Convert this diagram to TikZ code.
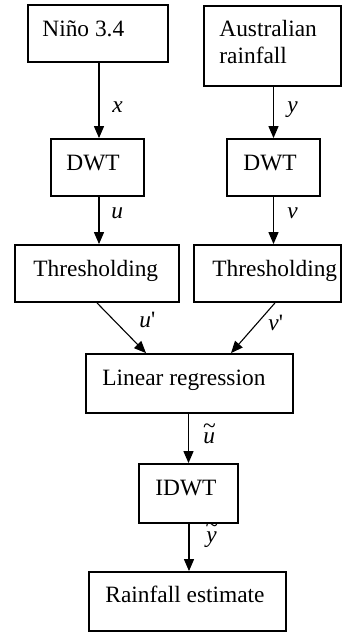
\documentclass[tikz,border=0pt]{standalone}
\usepackage{fontspec}
\setmainfont{Liberation Serif}
\usetikzlibrary{arrows.meta,fit,calc}
\newcommand{\mytil}[1]{\ooalign{#1\cr\hidewidth\raisebox{0.4em}{\char126}\hidewidth\cr}}
\begin{document}
\begin{tikzpicture}[x=0.5pt,y=-0.5pt,
  box/.style={draw,line width=0.9pt,inner sep=0pt,fill=white},
  txt/.style={anchor=base west,inner sep=0pt,font=\fontsize{11.7}{14}\selectfont},
  lbl/.style={anchor=base west,inner sep=0pt,font=\fontsize{11.7}{14}\selectfont\itshape},
  arr/.style={line width=0.55pt,-{Triangle[width=5pt,length=6pt]}}]
\useasboundingbox (0,0) rectangle (342,633);
% labels
\node[lbl] (lx) at (112,112) {x};
\node[lbl] (ly) at (287,112) {y};
\node[lbl] (lu) at (111,218) {u};
\node[lbl] (lv) at (287,218) {v};
\node[lbl] (lu1) at (139,327) {u\upshape\textquotesingle};
\node[lbl] (lv1) at (268,330) {v\upshape\textquotesingle};
\node[lbl] (lut) at (203,443) {\mytil{u}};
\node[lbl] (lyt) at (206,542) {\mytil{y}};
% boxes
\node[box,fit={(28,5)(168,62)}] (b1) {};
\node[box,fit={(204,6)(341,86)}] (b2) {};
\node[box,fit={(51,139)(144,196)}] (dwt1) {};
\node[box,fit={(227,139)(320,196)}] (dwt2) {};
\node[box,fit={(15,245)(179,302)}] (thr1) {};
\node[box,fit={(194,245)(341,302)}] (thr2) {};
\node[box,fit={(86,354)(293,413)}] (lr) {};
\node[box,fit={(139,464)(238,523)}] (idwt) {};
\node[box,fit={(89,572)(286,631)}] (rain) {};
% texts
\node[txt] (t1) at (42,36) {Niño 3.4};
\node[txt] (t2a) at (219,36) {Australian};
\node[txt] (t2b) at (219,63) {rainfall};
\node[txt] (t3) at (66,170) {DWT};
\node[txt] (t4) at (243,170) {DWT};
\node[txt] (t5) at (33,276) {Thresholding};
\node[txt] (t6) at (212,276) {Thresholding};
\node[txt] (t7) at (102,385) {Linear regression};
\node[txt] (t8) at (155,495) {IDWT};
\node[txt] (t9) at (105,602) {Rainfall estimate};
% connectors
\draw[arr] ($(b1.south)+(1,0)$) -- ($(dwt1.north)+(1.5,0)$);
\draw[arr] (dwt2.north |- b2.south) -- (dwt2.north);
\draw[arr] ($(dwt1.south)+(1.5,0)$) -- ($(thr1.north)+(2,0)$);
\draw[arr] (dwt2.south) -- (dwt2.south |- thr2.north);
\draw[arr] (thr1.south) -- ($(lr.north)+(-43.5,0)$);
\draw[arr] ($(thr2.south)+(7.5,0)$) -- ($(lr.north)+(41.5,0)$);
\draw[arr] (idwt.north |- lr.south) -- (idwt.north);
\draw[arr] ($(idwt.south)+(0.5,0)$) -- ($(rain.north)+(1.5,0)$);
\end{tikzpicture}
\end{document}
